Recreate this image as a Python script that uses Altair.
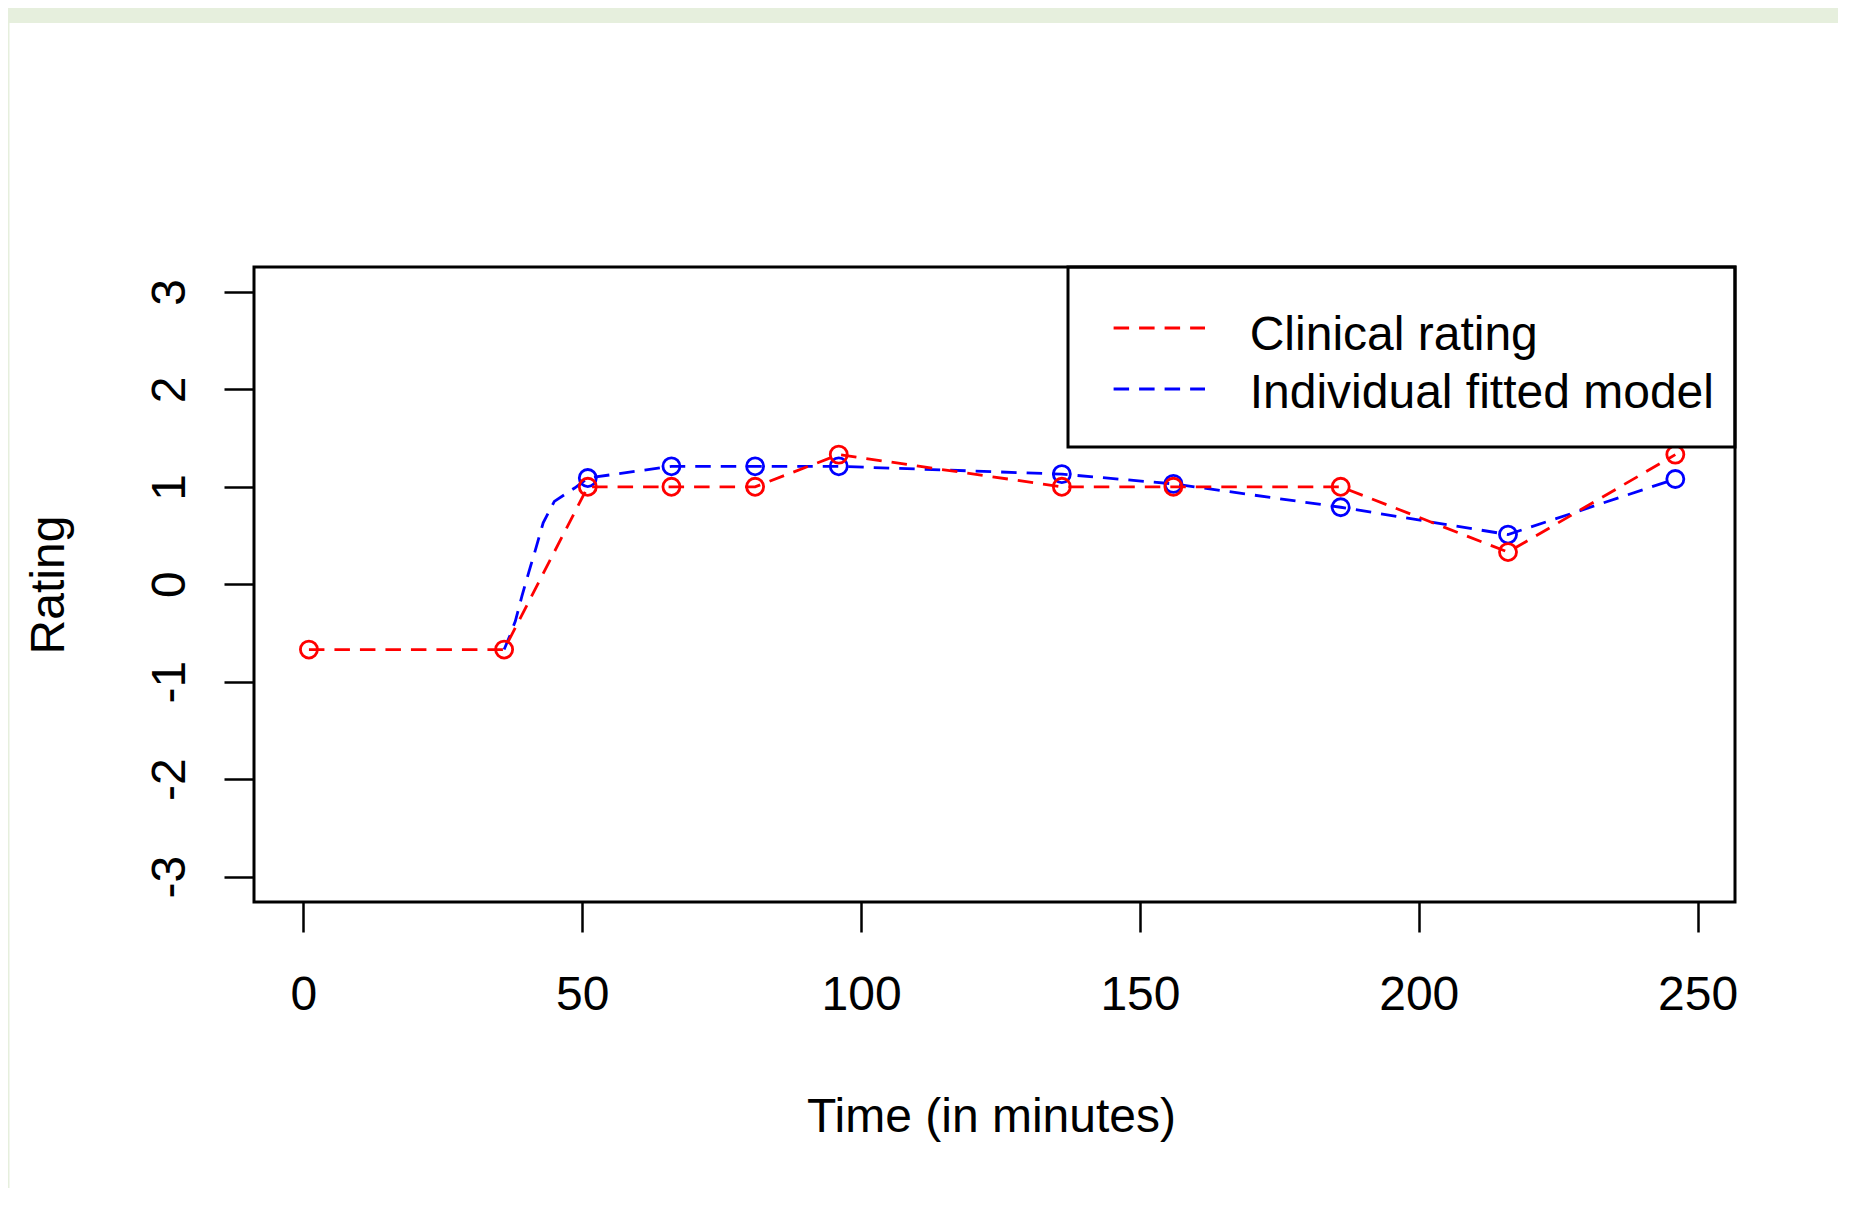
import altair as alt
import pandas as pd

# ---- data ----
times = [1, 36, 51, 66, 81, 96, 136, 156, 186, 216, 246]
clinical = [-0.67, -0.67, 1.0, 1.0, 1.0, 1.33, 1.0, 1.0, 1.0, 0.33, 1.33]

fit_times = [51, 66, 81, 96, 136, 156, 186, 216, 246]
fitted = [1.09, 1.21, 1.21, 1.21, 1.13, 1.03, 0.79, 0.51, 1.08]

# rising part of the fitted curve (between 36 and 51 min)
curve_times = [36, 37, 38, 39.2, 40.4, 41.6, 43, 45, 48.7]
curve_vals = [-0.67, -0.53, -0.38, -0.12, 0.12, 0.35, 0.63, 0.85, 0.99]

series = ["Clinical rating", "Individual fitted model"]
colors = ["#FF0000", "#0000FF"]
x_ticks = [0, 50, 100, 150, 200, 250]
y_ticks = [-3, -2, -1, 0, 1, 2, 3]

FONT = "Liberation Sans"
FS = 48
W, H = 1481, 635
LW = 2.8

clin_df = pd.DataFrame({"t": times, "v": clinical, "series": series[0]})
fit_line_df = pd.DataFrame({"t": curve_times + fit_times, "v": curve_vals + fitted, "series": series[1]})
fit_pts_df = pd.DataFrame({"t": fit_times, "v": fitted, "series": series[1]})

x_enc = alt.X(
    "t:Q",
    scale=alt.Scale(domain=[-8.85, 256.7], nice=False, zero=False),
    axis=alt.Axis(
        values=x_ticks, title="Time (in minutes)", grid=False, domain=False,
        tickSize=30, tickWidth=2.5, tickColor="black",
        labelFont=FONT, labelFontSize=FS, labelColor="black", labelPadding=77,
        labelBaseline="alphabetic", labelOverlap=False, labelFlush=False,
        labelExpr="datum.value + ''",
        titleFont=FONT, titleFontSize=FS, titleFontWeight="normal", titleColor="black",
        titleX=737, titleY=229, titleBaseline="alphabetic", titleAlign="center",
    ),
)
y_enc = alt.Y(
    "v:Q",
    scale=alt.Scale(domain=[-3.26, 3.255], nice=False, zero=False),
    axis=alt.Axis(
        values=y_ticks, title="Rating", grid=False, domain=False,
        tickSize=30, tickWidth=2.5, tickColor="black",
        labelFont=FONT, labelFontSize=FS, labelColor="black", labelPadding=40,
        labelAngle=270, labelAlign="center", labelBaseline="alphabetic",
        labelOverlap=False, labelFlush=False, labelExpr="datum.value + ''",
        titleFont=FONT, titleFontSize=FS, titleFontWeight="normal", titleColor="black",
        titleAngle=270, titleX=-191, titleY=317.5, titleBaseline="alphabetic", titleAlign="center",
    ),
)
color_enc = alt.Color("series:N", scale=alt.Scale(domain=series, range=colors), legend=None)

one = alt.Data(values=[{"a": 1}])
GREEN = "#E6EFDD"

band_top = alt.Chart(one).mark_rect(color=GREEN).encode(
    x=alt.value(-246), x2=alt.value(1584), y=alt.value(-259), y2=alt.value(-244)
)
band_left = alt.Chart(one).mark_rect(color=GREEN).encode(
    x=alt.value(-246), x2=alt.value(-244.5), y=alt.value(-259), y2=alt.value(921)
)

dash = [15.5, 10]
fit_line = alt.Chart(fit_line_df).mark_line(strokeDash=dash, strokeWidth=LW).encode(
    x=x_enc, y=y_enc, color=color_enc, order="t:Q"
)
fit_pts = alt.Chart(fit_pts_df).mark_point(shape="circle", filled=False, size=290, strokeWidth=LW, opacity=1).encode(
    x=x_enc, y=y_enc, color=color_enc
)
clin_line = alt.Chart(clin_df).mark_line(strokeDash=dash, strokeWidth=LW).encode(
    x=x_enc, y=y_enc, color=color_enc, order="t:Q"
)
clin_pts = alt.Chart(clin_df).mark_point(shape="circle", filled=False, size=290, strokeWidth=LW, opacity=1).encode(
    x=x_enc, y=y_enc, color=color_enc
)

legend_box = alt.Chart(one).mark_rect(fill="white", stroke="black", strokeWidth=3).encode(
    x=alt.value(814), x2=alt.value(W), y=alt.value(0), y2=alt.value(180)
)
legend_layers = [legend_box]
for i, (name, col) in enumerate(zip(series, colors)):
    legend_layers.append(
        alt.Chart(one).mark_rule(color=col, strokeDash=dash, strokeWidth=LW).encode(
            x=alt.value(859.6), x2=alt.value(951), y=alt.value(61 + 61 * i)
        )
    )
    legend_layers.append(
        alt.Chart(one).mark_text(text=name, align="left", baseline="alphabetic", font=FONT,
                                 fontSize=FS, color="black").encode(
            x=alt.value(995.7), y=alt.value(83 + 58 * i)
        )
    )

frame = alt.Chart(one).mark_rect(fillOpacity=0, stroke="black", strokeWidth=3).encode(
    x=alt.value(0), x2=alt.value(W), y=alt.value(0), y2=alt.value(H)
)

chart = alt.layer(
    band_top, band_left, fit_line, fit_pts, clin_line, clin_pts, *legend_layers, frame
).properties(
    width=W, height=H,
    padding={"left": 246, "top": 259, "right": 103, "bottom": 286},
    autosize=alt.AutoSizeParams(type="none"),
    background="white",
).configure_view(stroke=None)

chart.save("out.html", embed_options={"renderer": "svg", "actions": False})
